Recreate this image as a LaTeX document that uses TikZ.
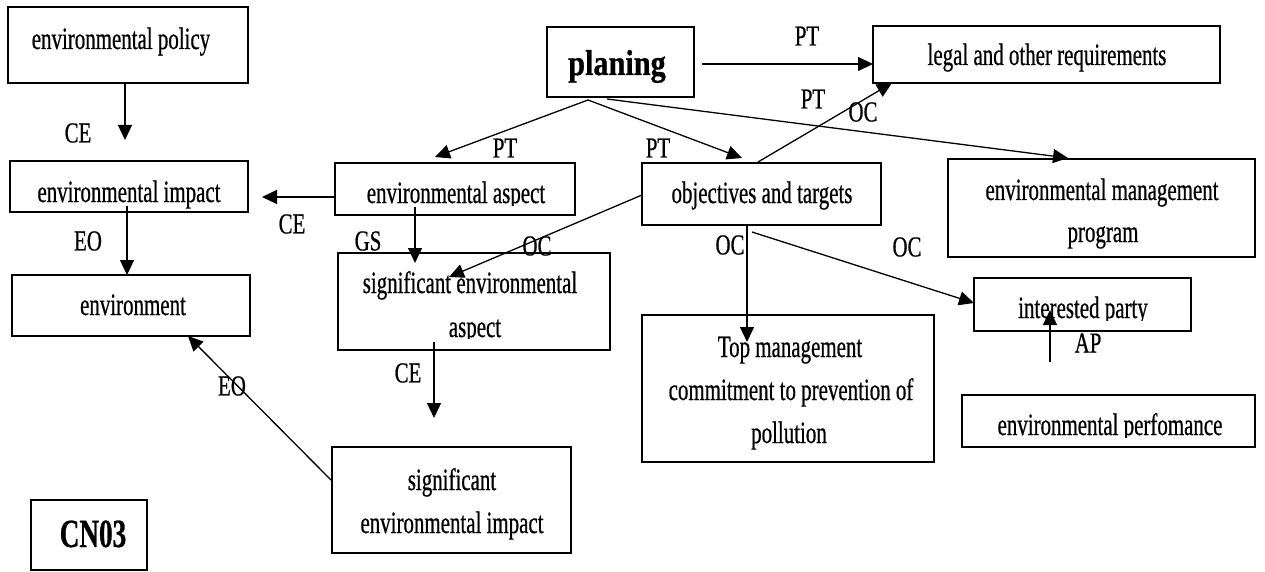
\documentclass[tikz,border=0pt]{standalone}
\usepackage{fontspec}
\newfontfamily\cf[FakeStretch=0.675,FakeBold=0.6]{Liberation Serif}
\newfontfamily\cfl[FakeStretch=0.72,FakeBold=0.6]{Liberation Serif}
\newfontfamily\cfbp[FakeStretch=0.84,FakeBold=0.8]{Liberation Serif Bold}
\newfontfamily\cfbc[FakeStretch=0.68,FakeBold=0.6]{Liberation Serif Bold}
\usetikzlibrary{arrows.meta}
\tikzset{
  box/.style={draw, line width=1.2pt, inner sep=0pt},
  txt/.style={inner sep=0pt, anchor=base, font=\cf\fontsize{31}{34}\selectfont},
  lab/.style={inner sep=0pt, anchor=center, font=\cfl\fontsize{29}{34}\selectfont},
  arr/.style={line width=1.3pt, -{Triangle[length=15pt,width=14pt]}}
}
\begin{document}
\begin{tikzpicture}[x=1pt,y=-1pt]
\useasboundingbox (0,0) rectangle (1265,572);
\fill[white] (0,0) rectangle (1265,572);
% boxes
\node[box, minimum width=240, minimum height=76] (pol) at (128,45) {};
\node[box, minimum width=238, minimum height=51] (imp) at (129,186.5) {};
\node[box, minimum width=238, minimum height=61] (env) at (131,305.5) {};
\node[box, minimum width=240, minimum height=52] (asp) at (455,189) {};
\node[box, minimum width=272, minimum height=97] (sasp) at (474,301.5) {};
\node[box, minimum width=147, minimum height=70] (plan) at (620.5,62) {};
\node[box, minimum width=239, minimum height=62] (obj) at (761.5,194) {};
\node[box, minimum width=347, minimum height=57] (leg) at (1046.5,54.5) {};
\node[box, minimum width=307, minimum height=98] (emp) at (1101.5,208) {};
\node[box, minimum width=217, minimum height=53] (ip) at (1082.5,304.5) {};
\node[box, minimum width=293, minimum height=52] (perf) at (1108.5,421) {};
\node[box, minimum width=292, minimum height=147] (top) at (788,388.5) {};
\node[box, minimum width=239, minimum height=106] (simp) at (451.5,500) {};
\node[box, minimum width=116, minimum height=70] (cn) at (89,535) {};
% texts
\node[txt] (polt) at (121,49) {environmental policy};
\node[txt] (impt) at (129,202) {environmental impact};
\node[txt] (envt) at (133,315) {environment};
\begin{scope}
\clip (300,150) rectangle (600,205);
\node[txt] (aspt) at (456,203) {environmental aspect};
\end{scope}
\node[txt] (saspt1) at (470,293) {significant environmental};
\begin{scope}
\clip (400,300) rectangle (560,338);
\node[txt] (saspt2) at (475,337) {aspect};
\end{scope}
\node[inner sep=0pt, anchor=base, font=\cfbp\fontsize{36}{40}\selectfont] (plant) at (617,75) {planing};
\node[txt] (legt) at (1047,65) {legal and other requirements};
\node[txt] (objt) at (762,203) {objectives and targets};
\node[txt] (empt1) at (1102,200) {environmental management};
\node[txt] (empt2) at (1103,242) {program};
\begin{scope}
\clip (980,280) rectangle (1185,320);
\node[txt] (ipt) at (1083,318) {interested party};
\end{scope}
\begin{scope}
\clip (965,400) rectangle (1250,437);
\node[txt] (perft) at (1110,435) {environmental perfomance};
\end{scope}
\node[txt] (topt1) at (790,357) {Top management};
\node[txt] (topt2) at (791,400) {commitment to prevention of};
\node[txt] (topt3) at (789,443) {pollution};
\node[txt] (simpt1) at (452,490) {significant};
\node[txt] (simpt2) at (452,533) {environmental impact};
\node[inner sep=0pt, anchor=base, font=\cfbc\fontsize{40}{44}\selectfont] (cnt) at (93,547) {CN03};
% connector end points
\coordinate (a1s) at (125,83);   \coordinate (a1e) at (125,140);
\coordinate (a2s) at (335,197);  \coordinate (a2e) at (262,197);
\coordinate (a3s) at (127,206);  \coordinate (a3e) at (127,275);
\coordinate (a4s) at (415,207);  \coordinate (a4e) at (415,263);
\coordinate (a5s) at (434,342);  \coordinate (a5e) at (434,418);
\coordinate (a6s) at (331,480);  \coordinate (a6e) at (188,336);
\coordinate (a7s) at (588,100);  \coordinate (a7e) at (435,157);
\coordinate (a8e) at (742,158);
\coordinate (a9s) at (607,99);   \coordinate (a9e) at (1068,158);
\coordinate (a10s) at (702,64);  \coordinate (a10e) at (873,64);
\coordinate (a11s) at (758,162); \coordinate (a11e) at (892,83);
\coordinate (a12s) at (642,195); \coordinate (a12e) at (449,277);
\coordinate (a13s) at (747,225); \coordinate (a13e) at (747,342);
\coordinate (a14s) at (752,232); \coordinate (a14e) at (974,303);
\coordinate (a15s) at (1050,362);\coordinate (a15e) at (1050,310);
% connectors
\draw[arr] (a1s) -- (a1e);
\draw[arr] (a2s) -- (a2e);
\draw[arr] (a3s) -- (a3e);
\draw[arr] (a4s) -- (a4e);
\draw[arr] (a5s) -- (a5e);
\draw[arr] (a6s) -- (a6e);
\draw[arr] (a7s) -- (a7e);
\draw[arr] (a7s) -- (a8e);
\draw[arr] (a9s) -- (a9e);
\draw[arr] (a10s) -- (a10e);
\draw[arr] (a11s) -- (a11e);
\draw[arr] (a12s) -- (a12e);
\draw[arr] (a13s) -- (a13e);
\draw[arr] (a14s) -- (a14e);
\draw[arr] (a15s) -- (a15e);
% labels
\node[lab] (l1) at (78,133) {CE};
\node[lab] (l2) at (292,224) {CE};
\node[lab] (l3) at (88,241) {EO};
\node[lab] (l4) at (368,241) {GS};
\node[lab] (l5) at (505,148) {PT};
\node[lab] (l6) at (658,148) {PT};
\node[lab] (l7) at (807,36) {PT};
\node[lab] (l8) at (813,99) {PT};
\node[lab] (l9) at (863,112) {OC};
\node[lab] (l10) at (537,246) {OC};
\node[lab] (l11) at (730,245) {OC};
\node[lab] (l12) at (907,247) {OC};
\node[lab] (l13) at (408,373) {CE};
\node[lab] (l14) at (232,386) {EO};
\node[lab] (l15) at (1088,343) {AP};
\end{tikzpicture}
\end{document}
